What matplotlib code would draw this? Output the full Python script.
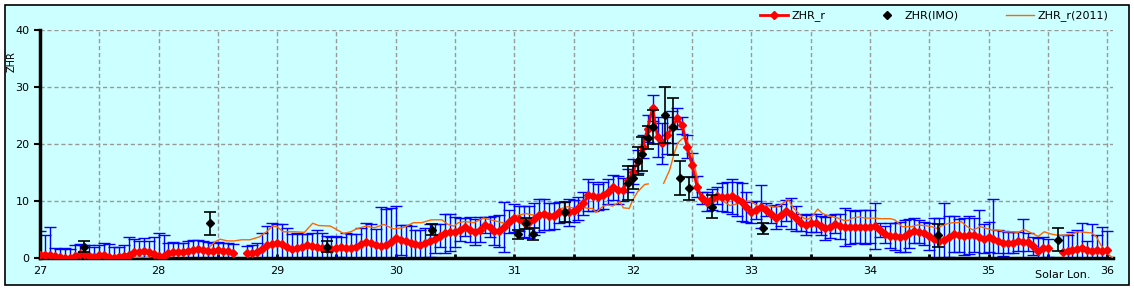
import numpy as np
import matplotlib
matplotlib.use("Agg")
import matplotlib.pyplot as plt
from matplotlib.patches import Rectangle
from matplotlib.lines import Line2D

nan = np.nan

# ZHR_r, hourly steps (1/24 deg) from 27.0 to 36.0
sol_start = 27.0
sol_step = 1 / 24
zhr_r = [
    0.5, 0.6, 0.6, 0.4, 0.1, 0.0, 0.0, 0.3, 0.7, 0.7, 0.3, 0.2, 0.5, 0.6, 0.2, 0.0, 0.1, 0.4, 0.6, 1.0, 1.1, 1.2, 1.0, 0.7,
    0.4, 0.3, 0.8, 1.0, 1.0, 1.1, 1.3, 1.4, 1.5, 1.4, 1.2, 1.3, 1.4, 1.3, 1.2, 0.9, nan, nan, 0.8, 0.8, 1.1, 1.6, 2.2, 2.5,
    2.6, 2.4, 2.0, 1.6, 1.7, 2.0, 2.2, 2.1, 2.0, 1.8, 1.6, 1.6, 1.8, 1.9, 1.8, 1.8, 2.0, 2.5, 2.8, 2.7, 2.3, 2.1, 2.2, 2.8,
    3.5, 3.2, 2.9, 2.6, 2.4, 2.3, 2.6, 3.0, 3.4, 3.9, 4.3, 4.5, 4.6, 5.0, 5.4, 5.0, 4.6, 5.0, 5.8, 5.4, 4.8, 4.8, 5.5, 6.4,
    7.0, 6.9, 6.4, 6.3, 6.9, 7.5, 7.7, 7.3, 7.4, 8.0, 8.1, 8.0, 8.3, 8.7, 9.6, 11.0, 10.8, 10.7, 11.0, 11.6, 12.4, 11.9, 12.0, 13.6,
    15.1, 17.0, 19.5, 22.7, 26.3, 21.3, 20.1, 21.5, 23.0, 24.5, 23.3, 19.5, 16.3, 12.5, 10.5, 9.9, 10.3, 10.9, 10.7, 10.7, 10.8, 10.4, 9.8, 8.9,
    8.0, 8.4, 9.0, 8.5, 7.7, 7.1, 7.6, 8.3, 7.8, 7.0, 6.2, 5.8, 6.2, 6.2, 5.7, 5.2, 5.5, 6.0, 5.6, 5.4, 5.4, 5.5, 5.5, 5.4,
    5.5, 5.6, 4.9, 4.2, 3.9, 3.8, 3.7, 3.8, 4.3, 4.8, 4.6, 4.3, 3.8, 3.4, 3.0, 3.2, 3.7, 4.2, 4.0, 3.8, 4.0, 4.1, 3.6, 3.4,
    3.7, 3.4, 2.9, 2.6, 2.7, 2.7, 2.9, 2.8, 2.8, 2.1, 1.3, 1.7, 1.8, nan, nan, 1.1, 1.2, 1.4, 1.6, 1.7, 1.4, 1.3, 1.4, 1.3,
    1.4,
]
zhr_r_err = [
    4.2, 3.4, 4.8, 1.3, 1.4, 1.8, 1.5, 2.0, 1.8, 1.6, 2.0, 1.8, 1.8, 2.0, 2.2, 2.0, 1.8, 1.9, 3.0, 2.4, 1.8, 2.3, 2.0, 3.0,
    4.0, 3.7, 1.8, 1.8, 1.6, 1.5, 1.6, 1.7, 1.6, 1.6, 1.6, 1.4, 1.4, 1.3, 1.4, 1.5, nan, nan, 1.3, 1.4, 1.5, 2.8, 3.5, 3.6,
    3.4, 3.5, 3.2, 2.6, 2.6, 2.2, 2.0, 2.2, 3.0, 2.5, 2.2, 2.0, 2.0, 1.8, 2.5, 2.4, 2.2, 2.8, 3.4, 3.2, 2.8, 6.8, 6.4, 6.0,
    5.6, 2.6, 2.9, 3.1, 2.5, 2.6, 2.6, 2.9, 2.5, 2.0, 3.5, 3.3, 2.6, 2.0, 1.6, 2.2, 2.3, 2.2, 1.4, 1.8, 2.6, 2.8, 4.4, 2.0,
    2.4, 2.2, 2.7, 2.8, 2.8, 2.9, 2.7, 2.3, 2.3, 1.9, 1.8, 2.3, 1.9, 2.0, 2.0, 2.8, 2.5, 2.3, 2.4, 2.2, 2.2, 2.5, 2.0, 2.1,
    2.2, 2.0, 2.0, 2.4, 2.3, 3.5, 3.6, 3.3, 2.8, 1.8, 1.5, 2.0, 2.1, 1.8, 1.1, 1.7, 1.8, 1.5, 2.4, 2.6, 3.1, 3.0, 3.3, 2.6,
    1.8, 1.6, 3.8, 1.2, 1.6, 2.0, 1.9, 1.8, 2.7, 2.2, 1.5, 1.7, 1.6, 1.6, 1.6, 2.0, 2.0, 1.7, 2.2, 3.3, 3.0, 2.8, 2.9, 3.0,
    2.9, 4.1, 1.2, 1.5, 2.2, 2.4, 2.7, 2.8, 2.5, 2.2, 2.0, 2.0, 2.4, 3.6, 4.0, 6.5, 3.6, 3.1, 2.9, 3.3, 3.3, 3.0, 4.9, 2.5,
    2.6, 7.0, 2.0, 2.2, 1.8, 1.8, 1.7, 4.1, 1.6, 1.6, 2.2, 2.0, 1.6, nan, nan, 2.9, 2.8, 3.1, 3.4, 4.5, 1.6, 4.7, 2.6, 4.1,
    3.3,
]

# ZHR(IMO)
imo_sol = [27.37, 28.43, 29.42, 30.31, 31.03, 31.10, 31.16, 31.43, 31.96, 32.00, 32.04,
           32.08, 32.13, 32.17, 32.27, 32.34, 32.40, 32.47, 32.67, 33.10, 34.57, 35.59]
imo_zhr = [2.0, 6.1, 2.0, 5.0, 4.2, 6.1, 4.2, 8.1, 13.1, 14.1, 17.0,
           18.2, 21.1, 23.0, 25.1, 23.0, 14.1, 12.2, 9.0, 5.2, 4.0, 3.2]
imo_err = [1.0, 2.0, 1.0, 1.0, 0.8, 1.0, 1.0, 1.8, 3.0, 2.0, 2.5,
           3.0, 2.0, 3.0, 4.9, 5.0, 3.0, 2.0, 2.0, 1.0, 2.0, 2.0]

# ZHR_r(2011)
y2011_sol = [26.97, 27.05, 27.12, 27.17, 27.25, 27.32, 27.40, 27.48, 27.55, 27.62, 27.66, 27.73, 27.80, 27.88,
             27.95, 28.03, 28.10, 28.17, 28.25, 28.33, 28.42, 28.48, 28.52, 28.58, 28.64, 28.70, 28.77, 28.85,
             28.91, 28.96, 29.00, 29.05, 29.15, 29.23, 29.30, 29.35, 29.45, 29.56, 29.62, 29.67, 29.75, 29.82,
             29.90, 29.98, 30.06, 30.15, 30.22, 30.30, 30.39, 30.44, 30.49, 30.53, 30.58, 30.66, 30.74, 30.80,
             30.86, 30.92, 30.98, 31.03, 31.10, 31.17, 31.26, 31.31, 31.40, 31.45, 31.51, 31.57, 31.62, 31.66,
             31.69, 31.75, 31.79, 31.83, 31.89, 31.92, 31.97, 32.00, 32.04, 32.10, 32.13, 32.20, 32.26, 32.31,
             32.35, 32.38, 32.42, 32.45, 32.50, 32.54, 32.56, 32.60, 32.66, 32.71, 32.76, 32.82, 32.88, 32.93,
             32.98, 33.02, 33.07, 33.14, 33.20, 33.24, 33.31, 33.35, 33.40, 33.44, 33.48, 33.52, 33.56, 33.60,
             33.65, 33.69, 33.73, 33.78, 33.82, 33.85, 33.91, 33.96, 34.01, 34.10, 34.17, 34.21, 34.27, 34.35,
             34.40, 34.46, 34.52, 34.56, 34.60, 34.65, 34.70, 34.74, 34.77, 34.82, 34.87, 34.93, 34.98, 35.03,
             35.08, 35.14, 35.20, 35.25, 35.30, 35.36, 35.42, 35.47, 35.53, 35.58, 35.64, 35.70, 35.76, 35.82,
             35.87, 35.91, 35.95, 36.00, 36.05]
y2011_zhr = [1.0, 0.9, 0.4, 0.0, 0.0, 0.6, 0.8, 0.6, 0.2, 0.3, 0.6, 0.7, 0.1, 0.0,
             0.3, 0.6, 0.3, 1.0, 0.9, 1.2, 1.8, 2.9, 3.3, 3.0, 3.0, 3.2, 3.2, 3.7,
             4.6, 5.6, 5.5, 4.6, 4.6, 4.5, 6.1, 5.7, 5.6, 4.3, 4.6, 5.1, 5.6, 5.3,
             5.9, 5.1, 5.3, 6.2, 6.2, 6.7, 6.7, 5.9, 5.6, 6.2, 6.4, 6.2, 7.0, 6.7,
             6.4, 6.1, 7.2, 7.5, 7.8, 7.5, 8.1, 7.6, 8.7, 9.0, 8.7, 9.0, 8.7, 8.7,
             8.0, 9.1, 9.3, 9.1, 9.9, 8.8, 8.7, 10.2, 11.6, 12.9, 13.0, nan, 13.1, 15.4,
             18.4, 20.2, 21.0, 21.0, 18.4, 14.3, 11.6, 10.5, 10.4, 10.4, 10.0, 9.2, 9.5, 9.9,
             10.0, 9.6, 8.9, 9.2, 8.9, 9.2, 10.3, 8.9, 7.8, 7.0, 6.8, 7.5, 8.6, 7.8,
             7.4, 7.2, 7.0, 6.6, 6.6, 7.0, 7.2, 7.0, 7.0, 6.9, 6.9, 6.7, 5.5, 5.5,
             5.8, 5.7, 5.5, 5.2, 5.6, 6.0, 6.2, 6.2, 6.4, 5.5, 4.9, 5.5, 5.2, 4.9,
             4.9, 4.6, 4.6, 4.5, 5.0, 4.4, 3.8, 4.6, 4.2, 4.0, 4.0, 4.2, 4.6, 4.5,
             4.4, 3.7, 2.2, 0.8, 0.0]

sol = sol_start + sol_step * np.arange(len(zhr_r))
zhr_r = np.array(zhr_r)
zhr_r_err = np.array(zhr_r_err)

fig = plt.figure(figsize=(11.34, 2.90), dpi=100)
fig.patch.set_facecolor("white")
fig.patches.append(Rectangle((5 / 1134, 5 / 290), 1124 / 1134, 280 / 290, transform=fig.transFigure,
                             facecolor="#ccffff", edgecolor="black", linewidth=1.2, zorder=-10))

ax = fig.add_axes([40 / 1134, 32 / 290, 1073 / 1134, 228 / 290])
ax.set_facecolor("none")

ax.errorbar(sol, zhr_r, yerr=zhr_r_err, fmt="none", ecolor="#0000ff", elinewidth=1.0,
            capsize=4, capthick=1.0, zorder=2)
ax.plot(y2011_sol, y2011_zhr, color="#ff6600", linewidth=1.0, zorder=3)
ax.plot(sol, zhr_r, color="red", linewidth=2, marker="D", markersize=4.5, zorder=4)
ax.errorbar(imo_sol, imo_zhr, yerr=imo_err, fmt="D", color="black", markersize=4.5,
            elinewidth=1.2, capsize=4, capthick=1.2, zorder=5)

ax.set_xlim(27, 36.05)
ax.set_ylim(0, 40)
xt = np.arange(27, 36.01, 0.5)
ax.set_xticks(xt)
ax.set_xticklabels([str(int(v)) if v == int(v) else "" for v in xt])
ax.set_yticks([0, 10, 20, 30, 40])
ax.grid(True, color="#999999", linestyle=(0, (3, 2)), linewidth=1)
ax.set_axisbelow(True)
for s in ["top", "right"]:
    ax.spines[s].set_visible(False)
ax.spines["left"].set_linewidth(2.5)
ax.spines["bottom"].set_linewidth(2.5)
ax.tick_params(axis="x", direction="in", length=3, width=2, labelsize=8, pad=6)
ax.tick_params(axis="y", direction="out", length=4, width=1.5, labelsize=8)

fig.text(12 / 1134, 1 - 62 / 290, "ZHR", rotation=90, ha="center", va="center", fontsize=7)
fig.text(1063 / 1134, 1 - 275 / 290, "Solar Lon.", ha="center", va="center", fontsize=8)

handles = [
    Line2D([], [], color="red", linewidth=2, marker="D", markersize=4),
    Line2D([], [], color="black", linestyle="none", marker="D", markersize=4),
    Line2D([], [], color="#ff6600", linewidth=1),
]
fig.legend(handles, ["ZHR_r", "ZHR(IMO)", "ZHR_r(2011)"], loc="center right",
           bbox_to_anchor=(1118 / 1134, 1 - 16 / 290), ncol=3, frameon=False, fontsize=8,
           handlelength=2.5, columnspacing=4.3, handletextpad=0.3)

fig.savefig("out.png", dpi=100)
